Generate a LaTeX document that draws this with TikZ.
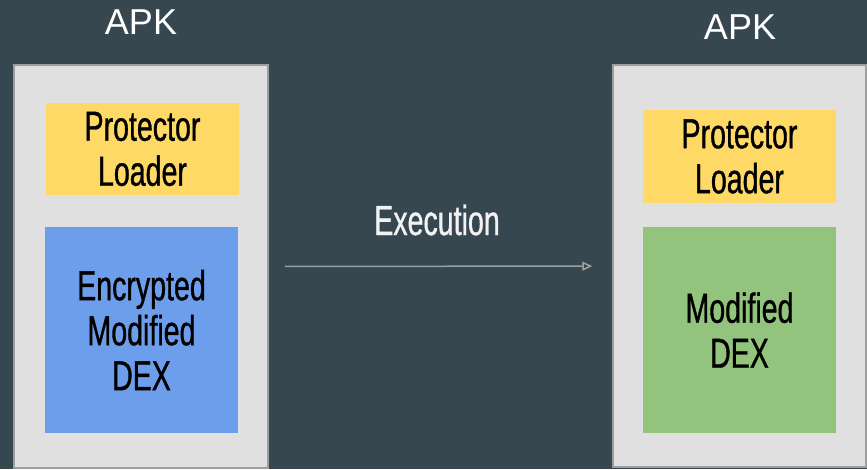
\documentclass[tikz,border=0pt]{standalone}
\usepackage{fontspec}
\setmainfont{Liberation Sans}
\newfontfamily\condfont[FakeStretch=0.68,FakeBold=0.8]{Liberation Sans}
\usetikzlibrary{arrows.meta}
\definecolor{bgc}{HTML}{37474F}
\definecolor{apkfill}{HTML}{E0E0E0}
\definecolor{apkline}{HTML}{9E9E9E}
\definecolor{yel}{HTML}{FFD966}
\definecolor{blu}{HTML}{6D9EEB}
\definecolor{grn}{HTML}{93C47D}
\definecolor{arr}{HTML}{9E9E9E}
\definecolor{wtxt}{HTML}{F2F2F2}
\tikzset{
  apkbox/.style={draw=apkline, line width=1.5pt, fill=apkfill, inner sep=0pt},
  inbox/.style={inner sep=0pt, align=center, text=black,
    font=\condfont\fontsize{42}{45}\selectfont},
  apklabel/.style={text=white, inner sep=0pt, font=\fontsize{36}{40}\selectfont},
  exlabel/.style={text=wtxt, inner sep=0pt, font=\condfont\fontsize{42}{45}\selectfont},
  flow/.style={draw=arr, line width=1.5pt, -{Triangle[open, length=10pt, width=9pt]}}
}
\begin{document}
\begin{tikzpicture}[x=1pt,y=-1pt]
\fill[bgc] (0,0) rectangle (867,469);
\useasboundingbox (0,0) rectangle (867,469);
\node[apkbox, minimum width=254pt, minimum height=403pt] (apk1) at (141,266.5) {};
\node[apkbox, minimum width=253pt, minimum height=402pt] (apk2) at (739.5,266) {};
\node[inbox, fill=yel, minimum width=193pt, minimum height=92pt] (pl1) at (142.5,149) {Protector\\Loader};
\node[inbox, fill=blu, minimum width=193pt, minimum height=206pt] (dex1) at (141.5,330) {Encrypted\\Modified\\DEX};
\node[inbox, fill=yel, minimum width=193pt, minimum height=93pt] (pl2) at (739.5,156.5) {Protector\\Loader};
\node[inbox, fill=grn, minimum width=193pt, minimum height=206pt] (dex2) at (739.5,330) {Modified\\DEX};
\node[apklabel] (t1) at (141,22) {APK};
\node[apklabel] (t2) at (740,27) {APK};
\node[exlabel] (ex) at (437,220) {Execution};
\draw[flow, shorten <=16pt, shorten >=20pt] (apk1) -- (apk2);
\end{tikzpicture}
\end{document}
